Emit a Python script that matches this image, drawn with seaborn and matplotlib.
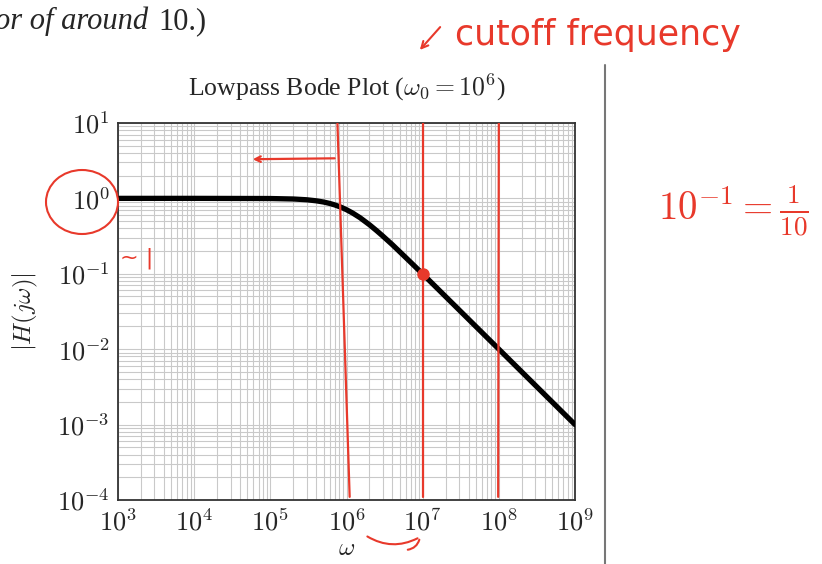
import matplotlib
matplotlib.use("Agg")
import matplotlib.pyplot as plt
import seaborn as sns
from matplotlib.patches import Ellipse, FancyArrowPatch
from matplotlib.ticker import LogLocator, NullFormatter

# values
omega = [1e3, 1e4, 1e5, 2e5, 3e5, 4e5, 5e5, 6e5, 7e5, 8.5e5, 1e6, 1.2e6, 1.5e6,
         2e6, 2.5e6, 3e6, 4e6, 6e6, 1e7, 1e8, 1e9]
magnitude = [1.0, 1.0, 0.995, 0.981, 0.958, 0.928, 0.894, 0.857, 0.819, 0.762, 0.707,
             0.640, 0.555, 0.447, 0.371, 0.316, 0.243, 0.164, 0.0995, 0.01, 0.001]
x_exponents = [3, 4, 5, 6, 7, 8, 9]
y_exponents = [-4, -3, -2, -1, 0, 1]

# hand-drawn marks (red ink)
red_lines_top = [7.6e5, 1.0e7, 1.0e8]
red_lines_bottom = [1.1e6, 1.0e7, 0.98e8]
red_dot = (1e7, 0.1)

sns.set_style("white")
plt.rcParams["font.family"] = ["Liberation Serif", "DejaVu Serif"]
plt.rcParams["mathtext.fontset"] = "cm"

fig = plt.figure(figsize=(8.22, 5.64), dpi=100)
ax = fig.add_axes([0.1436, 0.1135, 0.5559, 0.6685])

df = {"omega": omega, "mag": magnitude}
sns.lineplot(x="omega", y="mag", data=df, color="black", linewidth=3.8, ax=ax, zorder=3)
ax.set_xscale("log")
ax.set_yscale("log")
ax.set_xlim(1e3, 1e9)
ax.set_ylim(1e-4, 1e1)

ax.set_xticks([10.0 ** e for e in x_exponents], labels=[rf"$10^{{{e}}}$" for e in x_exponents])
ax.set_yticks([10.0 ** e for e in y_exponents], labels=[rf"$10^{{{e}}}$" for e in y_exponents])
for axis in (ax.xaxis, ax.yaxis):
    axis.set_minor_locator(LogLocator(base=10, subs=range(2, 10), numticks=100))
    axis.set_minor_formatter(NullFormatter())
ax.grid(True, which="both", color="#c9c9c9", linewidth=0.8)
ax.tick_params(which="major", direction="in", length=4, labelsize=19, pad=6, color="#555555")
ax.tick_params(which="minor", direction="in", length=2, color="#999999")
for s in ax.spines.values():
    s.set_color("#333333")
    s.set_linewidth(1.3)

ax.set_title(r"Lowpass Bode Plot ($\omega_0 = 10^6$)", fontsize=18.5, pad=20)
ax.set_xlabel(r"$\omega$", fontsize=18, labelpad=2)
ax.set_ylabel(r"$|H(j\omega)|$", fontsize=18, labelpad=12)

# red annotations drawn on the axes
for top, bottom in zip(red_lines_top, red_lines_bottom):
    ax.plot([top, bottom], [1e1, 1.1e-4], color="#e8392b", linewidth=1.6, zorder=4)
ax.plot(*red_dot, marker="o", markersize=8, color="#e8392b", zorder=5)
ax.annotate("", xy=(5.4e4, 3.3), xytext=(7.6e5, 3.4),
            arrowprops=dict(arrowstyle="->", color="#e8392b", lw=1.6))

# text around the chart
fig.text(-0.006, 0.962, "or of around", fontsize=22, style="italic", va="center")
fig.text(0.193, 0.962, "10.)", fontsize=22, va="center")
fig.text(0.553, 0.938, "cutoff frequency", fontsize=25, color="#e8392b", va="center",
         family=["DejaVu Sans"])
fig.patches.append(FancyArrowPatch((442 / 822, 1 - 25 / 564), (418 / 822, 1 - 52 / 564),
                                   transform=fig.transFigure, arrowstyle="->",
                                   mutation_scale=12, color="#e8392b", lw=1.5))
fig.text(0.80, 0.625, r"$10^{-1} = \frac{1}{10}$", fontsize=28, color="#e8392b", va="center")
fig.patches.append(Ellipse((82 / 822, 1 - 202 / 564), 72 / 822, 64 / 564,
                           transform=fig.transFigure, fill=False, ec="#e8392b", lw=1.5))
fig.text(120 / 822, 1 - 258 / 564, "~ |", fontsize=16, color="#e8392b", va="center",
         family=["DejaVu Sans"])
fig.patches.append(FancyArrowPatch((365 / 822, 1 - 535 / 564), (420 / 822, 1 - 537 / 564),
                                   transform=fig.transFigure, arrowstyle="-",
                                   connectionstyle="arc3,rad=0.3", color="#e8392b", lw=1.5))
fig.patches.append(FancyArrowPatch((420 / 822, 1 - 537 / 564), (405 / 822, 1 - 550 / 564),
                                   transform=fig.transFigure, arrowstyle="-",
                                   connectionstyle="arc3,rad=-0.4", color="#e8392b", lw=1.5))
fig.lines.append(plt.Line2D([605 / 822, 605 / 822], [0, 1 - 65 / 564],
                            transform=fig.transFigure, color="#777777", lw=1.5))

fig.savefig("out.png", dpi=100)
